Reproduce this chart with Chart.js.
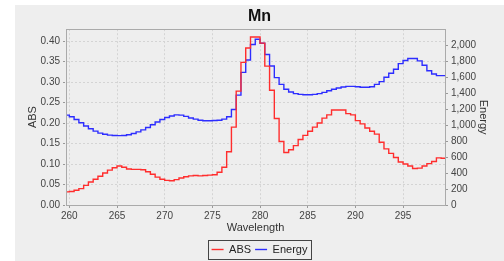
<!DOCTYPE html>
<html>
<head>
<meta charset="utf-8">
<script src="https://cdn.jsdelivr.net/npm/chart.js@4"></script>
<style>
  html, body { margin: 0; padding: 0; background: #ffffff; }
  #wrap { position: absolute; left: 15px; top: 5px; width: 489px; height: 256px; background: #eeeeee; }
</style>
</head>
<body>
<div id="wrap"><canvas id="mnChart" width="489" height="256"></canvas></div>
<script>
// wavelength (nm), one sample every 0.5 nm
const wavelength = [
  259.5, 260.0, 260.5, 261.0, 261.5, 262.0, 262.5, 263.0, 263.5, 264.0,
  264.5, 265.0, 265.5, 266.0, 266.5, 267.0, 267.5, 268.0, 268.5, 269.0,
  269.5, 270.0, 270.5, 271.0, 271.5, 272.0, 272.5, 273.0, 273.5, 274.0,
  274.5, 275.0, 275.5, 276.0, 276.5, 277.0, 277.5, 278.0, 278.5, 279.0,
  279.5, 280.0, 280.5, 281.0, 281.5, 282.0, 282.5, 283.0, 283.5, 284.0,
  284.5, 285.0, 285.5, 286.0, 286.5, 287.0, 287.5, 288.0, 288.5, 289.0,
  289.5, 290.0, 290.5, 291.0, 291.5, 292.0, 292.5, 293.0, 293.5, 294.0,
  294.5, 295.0, 295.5, 296.0, 296.5, 297.0, 297.5, 298.0, 298.5, 299.0,
  299.5
];
const absValues = [
  0.032, 0.033, 0.036, 0.040, 0.048, 0.056, 0.063, 0.070, 0.078, 0.085,
  0.091, 0.095, 0.092, 0.088, 0.087, 0.087, 0.086, 0.081, 0.075, 0.068,
  0.063, 0.060, 0.059, 0.062, 0.066, 0.069, 0.071, 0.072, 0.071, 0.072,
  0.073, 0.074, 0.080, 0.092, 0.130, 0.190, 0.278, 0.348, 0.383, 0.410,
  0.410, 0.395, 0.339, 0.280, 0.211, 0.155, 0.128, 0.135, 0.145, 0.160,
  0.170, 0.180, 0.190, 0.200, 0.212, 0.220, 0.232, 0.232, 0.232, 0.223,
  0.220, 0.206, 0.198, 0.188, 0.180, 0.173, 0.153, 0.137, 0.126, 0.116,
  0.105, 0.100, 0.095, 0.089, 0.090, 0.095, 0.101, 0.106, 0.115, 0.114,
  0.112
];
const energyValues = [
  1125, 1105, 1070, 1030, 990, 955, 925, 900, 885, 875,
  870, 868, 870, 880, 895, 915, 940, 970, 1005, 1040,
  1070, 1095, 1115, 1128, 1125, 1110, 1090, 1075, 1062, 1055,
  1055, 1057, 1062, 1075, 1105, 1195, 1375, 1660, 1815, 2010,
  2075, 2025, 1885, 1740, 1595, 1510, 1450, 1415, 1395, 1385,
  1380, 1380, 1385, 1395, 1410, 1430, 1450, 1465, 1478, 1485,
  1485, 1480, 1475, 1475, 1480, 1510, 1545, 1600, 1650, 1700,
  1770, 1810, 1835, 1835, 1805, 1750, 1680, 1640, 1620, 1620,
  1635
];
const xTicks = [260, 265, 270, 275, 280, 285, 290, 295];
const absTicks = [0, 0.05, 0.10, 0.15, 0.20, 0.25, 0.30, 0.35, 0.40];
const energyTicks = [0, 200, 400, 600, 800, 1000, 1200, 1400, 1600, 1800, 2000];

const tickFont = { family: 'Liberation Sans, Arial, sans-serif', size: 10 };
const titleFont = { family: 'Liberation Sans, Arial, sans-serif', size: 11 };
const dashGrid = { color: '#d4d4d4', tickColor: '#999999', tickLength: 3, tickBorderDash: [2, 2] };
const dashBorder = { display: true, color: '#aaaaaa', dash: [2, 2] };

// frame round the plot and a box round the legend items
const framePlugin = {
  id: 'frame',
  afterDraw(chart) {
    const c = chart.ctx;
    const a = chart.chartArea;
    c.save();
    c.setLineDash([]);
    c.strokeStyle = '#aaaaaa';
    c.lineWidth = 1;
    c.strokeRect(Math.round(a.left) + 0.5, Math.round(a.top) + 0.5,
      Math.round(a.right - a.left), Math.round(a.bottom - a.top));
    const boxes = chart.legend.legendHitBoxes;
    if (boxes && boxes.length) {
      const l = Math.min(...boxes.map(b => b.left)) - 4;
      const r = Math.max(...boxes.map(b => b.left + b.width)) + 3;
      const t = Math.min(...boxes.map(b => b.top)) - 4;
      const btm = Math.max(...boxes.map(b => b.top + b.height)) + 4;
      c.strokeStyle = '#444444';
      c.strokeRect(Math.round(l) + 0.5, Math.round(t) + 0.5, Math.round(r - l), Math.round(btm - t));
    }
    c.restore();
  }
};

const ctx = document.getElementById('mnChart').getContext('2d');
const mnChart = new Chart(ctx, {
  type: 'line',
  data: {
    labels: wavelength,
    datasets: [{
      label: 'ABS',
      data: absValues,
      yAxisID: 'y',
      borderColor: 'rgb(255, 45, 45)',
      backgroundColor: 'rgb(255, 45, 45)',
      borderWidth: 1.4,
      pointRadius: 0,
      stepped: true
    }, {
      label: 'Energy',
      data: energyValues,
      yAxisID: 'y2',
      borderColor: 'rgb(45, 45, 255)',
      backgroundColor: 'rgb(45, 45, 255)',
      borderWidth: 1.4,
      pointRadius: 0,
      stepped: true
    }]
  },
  options: {
    responsive: false,
    animation: false,
    layout: { padding: { left: 0, right: 0, top: 0, bottom: -4 } },
    plugins: {
      title: {
        display: true,
        text: 'Mn',
        color: '#111111',
        font: { family: 'Liberation Sans, Arial, sans-serif', size: 16, weight: 'bold' },
        padding: { top: 2, bottom: 3 }
      },
      legend: {
        position: 'bottom',
        labels: {
          usePointStyle: true,
          pointStyle: 'line',
          pointStyleWidth: 12,
          boxHeight: 11,
          padding: 4,
          color: '#222222',
          font: titleFont
        }
      },
      tooltip: { enabled: false }
    },
    scales: {
      x: {
        type: 'linear',
        min: 259.65,
        max: 299.4,
        afterBuildTicks: (scale) => { scale.ticks = xTicks.map(v => ({ value: v })); },
        afterFit: (scale) => { scale.height = 35; },
        ticks: { font: tickFont, color: '#444444', maxRotation: 0, padding: 2 },
        grid: dashGrid,
        border: dashBorder,
        title: { display: true, text: 'Wavelength', color: '#333333', font: titleFont, padding: { top: 0, bottom: 5 } }
      },
      y: {
        position: 'left',
        min: 0,
        max: 0.429,
        afterBuildTicks: (scale) => { scale.ticks = absTicks.map(v => ({ value: v })); },
        afterFit: (scale) => { scale.width = 51; },
        ticks: { font: tickFont, color: '#444444', padding: 3, callback: v => v.toFixed(2) },
        grid: dashGrid,
        border: dashBorder,
        title: { display: true, text: 'ABS', color: '#333333', font: titleFont, padding: { top: 11, bottom: 0 } }
      },
      y2: {
        position: 'right',
        min: 0,
        max: 2201,
        afterBuildTicks: (scale) => { scale.ticks = energyTicks.map(v => ({ value: v })); },
        afterFit: (scale) => { scale.width = 59; },
        ticks: { font: tickFont, color: '#444444', padding: 3, callback: v => v.toLocaleString('en-US') },
        grid: { drawOnChartArea: false, tickColor: '#999999', tickLength: 3 },
        border: { display: false },
        title: { display: true, text: 'Energy', color: '#333333', font: titleFont, padding: { top: 14, bottom: 0 } }
      }
    }
  },
  plugins: [framePlugin]
});
</script>
</body>
</html>
